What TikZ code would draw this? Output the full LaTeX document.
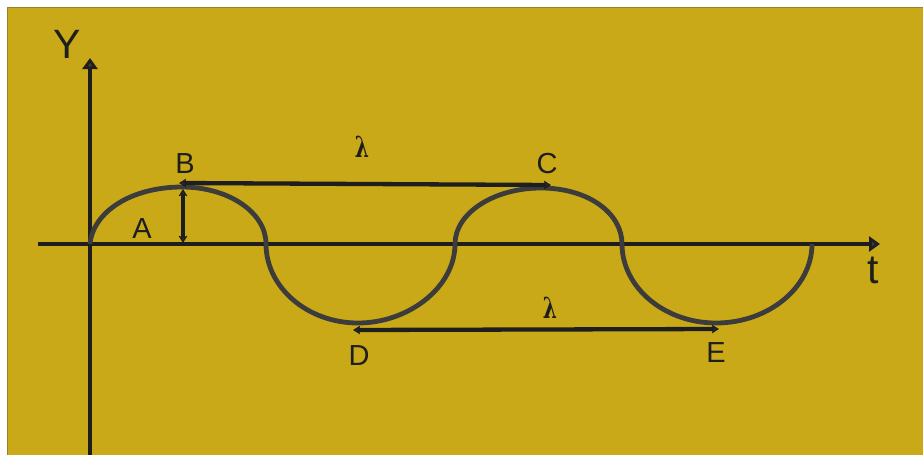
\documentclass[tikz,border=0pt]{standalone}
\usepackage{fontspec}
\setmainfont{Liberation Sans}
\newfontfamily\lamfont{DejaVu Serif}
\usetikzlibrary{arrows.meta}
\definecolor{bgyellow}{RGB}{201,169,23}
\definecolor{axiscol}{RGB}{30,30,30}
\definecolor{curvecol}{RGB}{60,60,60}
\definecolor{edgecol}{RGB}{150,130,40}
\tikzset{
  axisline/.style={draw=axiscol,line width=4.5pt,-{Triangle[length=11pt,width=15pt,fill=curvecol]}},
  wave/.style={draw=curvecol,line width=4.8pt},
  dimline/.style={draw=axiscol,line width=4.3pt,{Stealth[length=7pt,width=8.5pt,inset=1pt,fill=curvecol]}-{Stealth[length=7pt,width=8.5pt,inset=1pt,fill=curvecol]}},
  lbl/.style={font=\fontsize{29}{29}\selectfont,text=axiscol,inner sep=0pt},
  biglbl/.style={font=\fontsize{41}{41}\selectfont,text=axiscol,inner sep=0pt},
  lamlbl/.style={font=\lamfont\bfseries\fontsize{29}{29}\selectfont,text=axiscol,inner sep=0pt}
}
\begin{document}
\begin{tikzpicture}[x=1pt,y=-1pt]
\useasboundingbox (0,0) rectangle (923,455);
\fill[white] (0,0) rectangle (923,455);
\fill[bgyellow] (7,7) rectangle (923,455);
\draw[edgecol,line width=1pt] (7.5,455) -- (7.5,7.5) -- (923,7.5);
% axes
\coordinate (ybot) at (90,455);
\coordinate (ytop) at (90,58);
\coordinate (tleft) at (38,244);
\coordinate (tright) at (880,244);
\draw[axisline] (ybot) -- (ytop);
\draw[axisline] (tleft) -- (tright);
\node[biglbl] (Ylbl) at (67,44) {Y};
\node[biglbl] (tlbl) at (873,270) {t};
% wave
\coordinate (O) at (90,244);
\coordinate (Bp) at (182,187);
\coordinate (X1) at (266,244);
\coordinate (Dp) at (358,323);
\coordinate (X2) at (455,244);
\coordinate (Cp) at (541,188);
\coordinate (X3) at (622,244);
\coordinate (Ep) at (716,323);
\coordinate (X4) at (812,244);
\draw[wave] (O) .. controls (93,212) and (131,187) .. (Bp)
  .. controls (228,187) and (266,212) .. (X1)
  .. controls (266,287) and (307,323) .. (Dp)
  .. controls (409,323) and (455,287) .. (X2)
  .. controls (455,213) and (494,188) .. (Cp)
  .. controls (588,188) and (622,213) .. (X3)
  .. controls (622,287) and (664,323) .. (Ep)
  .. controls (769,323) and (812,287) .. (X4);
% wavelength arrows
\coordinate (Ba) at (179,183);
\coordinate (Ca) at (551,185);
\coordinate (Da) at (353,330);
\coordinate (Ea) at (719,329);
\draw[dimline] (Ba) -- (Ca);
\draw[dimline] (Da) -- (Ea);
% amplitude arrow
\coordinate (Atop) at (183,189);
\coordinate (Abot) at (183,243);
\draw[dimline,line width=3.8pt] (Atop) -- (Abot);
% labels
\node[lbl] (Alb) at (142,229) {A};
\node[lbl] (Blb) at (185,164) {B};
\node[lbl] (Clb) at (547,164) {C};
\node[lbl] (Dlb) at (359,356) {D};
\node[lbl] (Elb) at (716,353) {E};
\node[lamlbl] (lam1) at (362,147) {\scalebox{0.7}[1]{λ}};
\node[lamlbl] (lam2) at (550,308) {\scalebox{0.7}[1]{λ}};
\end{tikzpicture}
\end{document}
